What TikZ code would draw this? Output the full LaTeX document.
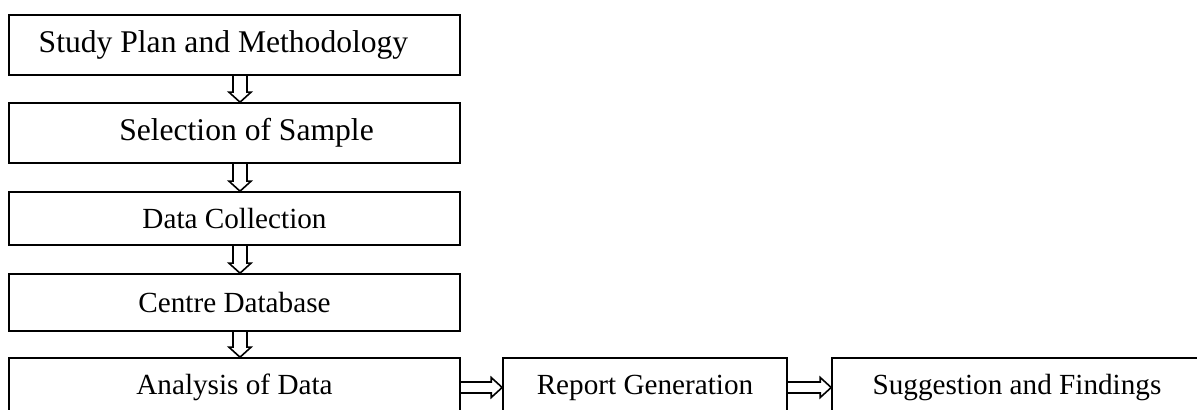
\documentclass[tikz,border=0pt]{standalone}
\usepackage{fontspec}
\setmainfont{Liberation Serif}
\usetikzlibrary{calc}

\def\arrowdx{2.75pt}
\tikzset{
  stage/.style={draw, line width=0.8pt, inner sep=0pt, minimum width=225.5pt,
    font=\fontsize{14.6}{17}\selectfont},
  bigstage/.style={stage, font=\fontsize{15.8}{19}\selectfont},
  blockdown/.style={to path={
    ($(\tikztostart)+(\arrowdx-3.5pt,0pt)$) -- ($(\tikztotarget)+(\arrowdx-3.5pt,5pt)$)
    -- ++(-2pt,0pt) -- ($(\tikztotarget)+(\arrowdx,0pt)$) -- ++(5.5pt,5pt) -- ++(-2pt,0pt)
    -- ($(\tikztostart)+(\arrowdx+3.5pt,0pt)$)}},
  blockright/.style={to path={
    ($(\tikztostart)+(0pt,2.75pt)$) -- ($(\tikztotarget)+(-5.5pt,2.75pt)$)
    -- ++(0pt,2.25pt) -- (\tikztotarget) -- ++(-5.5pt,-5pt) -- ++(0pt,2.25pt)
    -- ($(\tikztostart)+(0pt,-2.75pt)$)}}
}

\begin{document}
\begin{tikzpicture}[x=0.5pt, y=-0.5pt]

        \clip (0,0) rectangle (1197,410);

        % columna de etapas
        \node[bigstage, minimum height=30pt] (plan) at (234.5,45) {Study Plan and Methodology\hspace*{11pt}};
        \node[bigstage, minimum height=30pt] (sample) at (234.5,133) {\hspace*{12pt}Selection of Sample};
        \node[stage, minimum height=26.5pt] (collect) at (234.5,218.5) {Data Collection};
        \node[stage, minimum height=28.5pt] (database) at (234.5,302.5) {Centre Database};
        \node[stage, minimum height=29.5pt] (analysis) at (234.5,387.5) {Analysis of Data};

        % fila de resultados
        \node[stage, minimum width=142pt, minimum height=29.5pt] (report) at (645,387.5) {Report Generation};
        \node[stage, minimum width=185pt, minimum height=29.5pt] (findings) at (1017,387.5) {Suggestion and Findings};

        % flechas huecas
        \draw[line width=0.8pt] (plan.south) to[blockdown] (sample.north);
        \draw[line width=0.8pt] (sample.south) to[blockdown] (collect.north);
        \draw[line width=0.8pt] (collect.south) to[blockdown] (database.north);
        \draw[line width=0.8pt] (database.south) to[blockdown] (analysis.north);
        \draw[line width=0.8pt] (analysis.east) to[blockright] (report.west);
        \draw[line width=0.8pt] (report.east) to[blockright] (findings.west);

    \end{tikzpicture}
\end{document}
